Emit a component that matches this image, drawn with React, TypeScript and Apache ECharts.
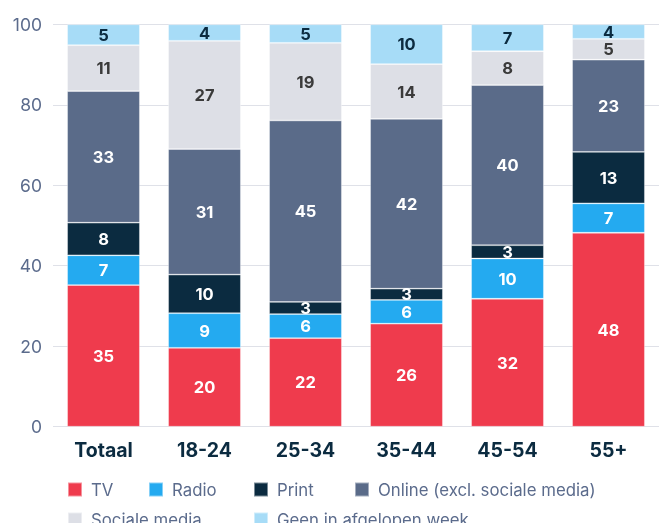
import React, { useEffect, useRef } from "react";
import * as echarts from "echarts";

const categories = ["Totaal", "18-24", "25-34", "35-44", "45-54", "55+"];
const seriesNames = ["TV", "Radio", "Print", "Online (excl. sociale media)", "Sociale media", "Geen in afgelopen week"];
const tv = [35.2, 19.6, 22.0, 25.6, 31.8, 48.2];
const radio = [7.4, 8.6, 6.0, 5.9, 10.0, 7.3];
const print = [8.1, 9.6, 3.0, 2.8, 3.3, 12.8];
const online = [32.7, 31.2, 45.1, 42.2, 39.8, 22.9];
const sociale = [11.4, 26.9, 19.3, 13.6, 8.4, 5.2];
const geen = [5.2, 4.1, 4.6, 9.9, 6.7, 3.6];
const yTicks = [0, 20, 40, 60, 80, 100];

const colors = ["#ef3b4d", "#24aaf0", "#0b2b40", "#5a6b89", "#dddfe6", "#a7dcf7"];
const labelColors = ["#ffffff", "#ffffff", "#ffffff", "#ffffff", "#3a3a3a", "#0b2b40"];
const legendPos = [
  [67, 481], [148, 481], [253, 481], [354, 481], [67, 511], [253, 511],
];

export default function App() {
  const ref = useRef<HTMLDivElement>(null);
  useEffect(() => {
    if (!ref.current) return;
    const chart = echarts.init(ref.current, undefined, { renderer: "svg" });
    const values = [tv, radio, print, online, sociale, geen];
    chart.setOption({
      animation: false,
      textStyle: { fontFamily: "Inter" },
      grid: { left: 53, width: 611, top: 24.3, height: 402.4 },
      legend: seriesNames.map((n, i) => ({
        data: [n],
        left: legendPos[i][0],
        top: legendPos[i][1],
        padding: 0,
        itemWidth: 14,
        itemHeight: 14,
        icon: "rect",
        selectedMode: false,
        textStyle: { color: "#5b6b8c", fontSize: 16.8, fontFamily: "Inter", padding: [0, 0, 0, 4] },
      })),
      xAxis: {
        type: "category",
        data: categories,
        axisLine: { show: false },
        axisTick: { show: false },
        axisLabel: { color: "#0b2b40", fontSize: 19.5, fontWeight: "bold", margin: 13, fontFamily: "Inter" },
      },
      yAxis: {
        type: "value",
        min: yTicks[0],
        max: yTicks[yTicks.length - 1],
        interval: 20,
        axisLabel: { color: "#5b6b8c", fontSize: 17.5, margin: 11, fontFamily: "Inter" },
        splitLine: { lineStyle: { color: "#dfe1e8", width: 1 } },
      },
      series: seriesNames.map((n, i) => ({
        name: n,
        type: "bar",
        stack: "total",
        barWidth: "72%",
        data: values[i],
        itemStyle: { color: colors[i], borderColor: "rgba(255,255,255,0.45)", borderWidth: 0.8 },
        label: {
          show: true,
          position: "inside",
          color: labelColors[i],
          fontSize: 16.5,
          fontWeight: "bold",
          fontFamily: "Inter",
          formatter: (p: any) => String(Math.round(p.value)),
        },
      })),
    });
    return () => chart.dispose();
  }, []);
  return <div ref={ref} style={{ position: "fixed", left: 0, top: 0, width: 659, height: 523 }} />;
}
